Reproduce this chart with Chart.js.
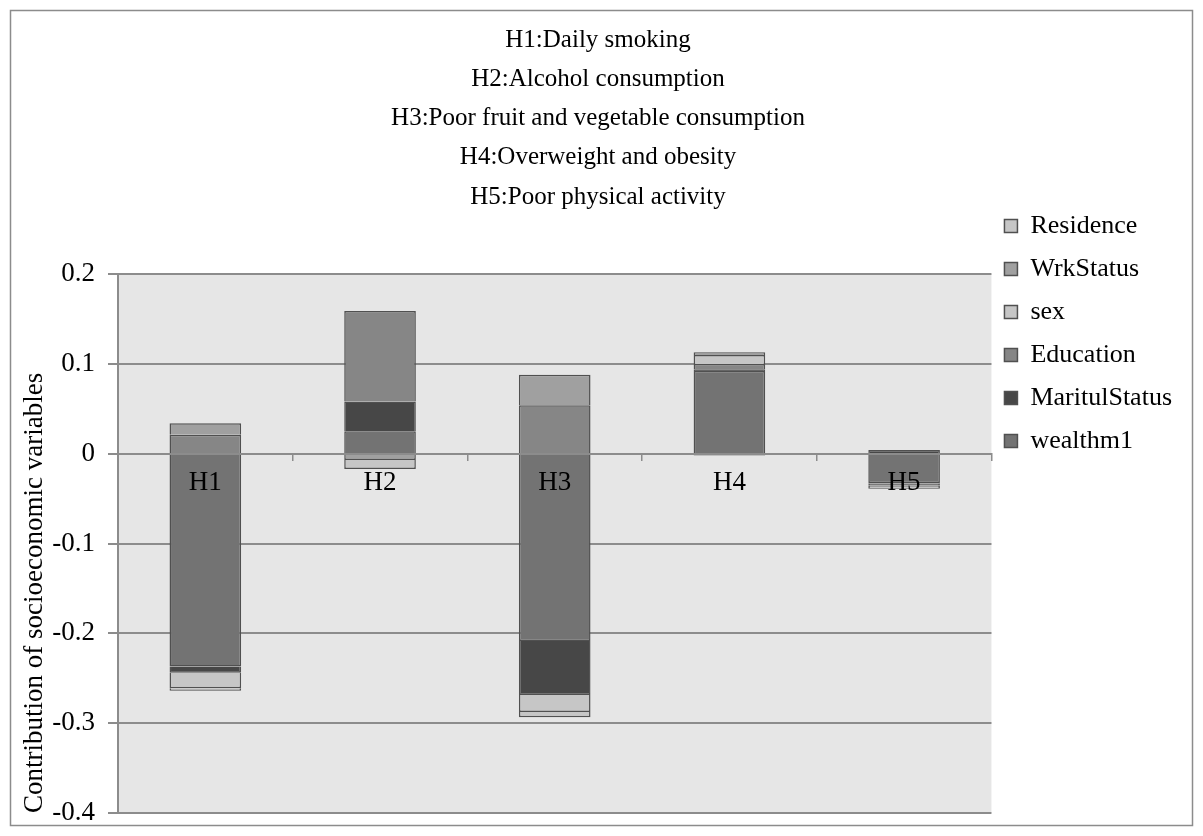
<!DOCTYPE html>
<html>
<head>
<meta charset="utf-8">
<script src="https://cdn.jsdelivr.net/npm/chart.js@4/dist/chart.umd.min.js"></script>
<style>
  html, body { margin: 0; padding: 0; background: #ffffff; }
  canvas { display: block; }
</style>
</head>
<body>
<canvas id="chart" width="1203" height="836"></canvas>
<script>
// Health behaviours decomposed by socioeconomic contributor
const categories = ['H1', 'H2', 'H3', 'H4', 'H5'];

const wealthm1      = [-0.237,  0.025, -0.2085, 0.092, -0.033];
const maritulStatus = [-0.007,  0.033, -0.060,  0.002,  0.004];
const education     = [ 0.021,  0.101,  0.054,  0.006, -0.002];
const sex           = [-0.017, -0.001, -0.019,  0.010, -0.001];
const wrkStatus     = [ 0.013, -0.006,  0.034,  0.003, -0.001];
const residence     = [-0.003, -0.010, -0.006, -0.002, -0.002];

const titleLines = [
  'H1:Daily smoking',
  'H2:Alcohol consumption',
  'H3:Poor fruit and vegetable consumption',
  'H4:Overweight and obesity',
  'H5:Poor physical activity'
];
const yAxisTitle = 'Contribution of socioeconomic variables';
const yMin = -0.4, yMax = 0.2, yStep = 0.1;

const FONT = '"Liberation Serif", "Times New Roman", serif';
const LEGEND_TOP = 196;
const LEGEND_NUDGE = 4;
const Y_AXIS_WIDTH = 108;
const Y_AXIS_BOTTOM_GAP = 23;
const EDGE = '#505050';

// light grey plot area plus the thin frame around the whole figure
const frameAndPlot = {
  id: 'frameAndPlot',
  beforeDraw(chart) {
    const { ctx, chartArea: a, width, height } = chart;
    ctx.save();
    ctx.fillStyle = '#ffffff';
    ctx.fillRect(0, 0, width, height);
    ctx.fillStyle = '#e6e6e6';
    ctx.fillRect(a.left, a.top, a.right - a.left, a.bottom - a.top);
    ctx.strokeStyle = '#8c8c8c';
    ctx.lineWidth = 1.5;
    ctx.strokeRect(10.5, 10.5, width - 21, height - 21);
    ctx.restore();
  }
};

// the legend column starts right under the title block, above the plot
const legendUnderTitle = {
  id: 'legendUnderTitle',
  afterLayout(chart) {
    const lg = chart.legend;
    if (!lg) return;
    lg.top = LEGEND_TOP;
    lg.left -= LEGEND_NUDGE;
    lg.right -= LEGEND_NUDGE;
  }
};

function series(label, data, color) {
  return {
    label, data,
    backgroundColor: color,
    borderColor: EDGE,
    borderWidth: 1.5,
    barPercentage: 0.41,
    categoryPercentage: 1.0
  };
}

new Chart(document.getElementById('chart'), {
  type: 'bar',
  data: {
    labels: categories,
    datasets: [
      series('wealthm1', wealthm1, '#737373'),
      series('MaritulStatus', maritulStatus, '#474747'),
      series('Education', education, '#868686'),
      series('sex', sex, '#c6c6c6'),
      series('WrkStatus', wrkStatus, '#a0a0a0'),
      series('Residence', residence, '#c6c6c6')
    ]
  },
  options: {
    responsive: false,
    animation: false,
    devicePixelRatio: 1,
    layout: { padding: { top: 10, left: 10, right: 17, bottom: 0 } },
    plugins: {
      title: {
        display: true,
        text: titleLines,
        color: '#000000',
        font: { family: FONT, size: 25, weight: 'normal', lineHeight: 1.57 },
        padding: { top: 10.4, bottom: 57.4 }
      },
      legend: {
        position: 'right',
        align: 'start',
        reverse: true,
        labels: {
          color: '#000000',
          font: { family: FONT, size: 26 },
          boxWidth: 13,
          boxHeight: 13,
          padding: 17
        }
      },
      tooltip: { enabled: false }
    },
    scales: {
      x: {
        stacked: true,
        position: { y: 0 },
        grid: { drawOnChartArea: false, drawTicks: true, tickLength: 6, color: '#8c8c8c', lineWidth: 1.5 },
        border: { display: true, color: '#8c8c8c', width: 2, z: 1 },
        ticks: { color: '#000000', font: { family: FONT, size: 27 }, padding: 7, z: 1 }
      },
      y: {
        stacked: true,
        min: yMin,
        max: yMax,
        afterFit: scale => {
          scale.width = Y_AXIS_WIDTH;
          scale.paddingBottom = Y_AXIS_BOTTOM_GAP;
        },
        grid: { color: '#8c8c8c', lineWidth: 2, tickLength: 10 },
        border: { display: true, color: '#8c8c8c', width: 2 },
        ticks: {
          stepSize: yStep,
          color: '#000000',
          font: { family: FONT, size: 27 },
          padding: 13,
          callback: v => String(Number(v.toFixed(1)))
        },
        title: {
          display: true,
          text: yAxisTitle,
          align: 'start',
          color: '#000000',
          font: { family: FONT, size: 27 },
          padding: { top: 8.8, bottom: 0 }
        }
      }
    }
  },
  plugins: [frameAndPlot, legendUnderTitle]
});
</script>
</body>
</html>
